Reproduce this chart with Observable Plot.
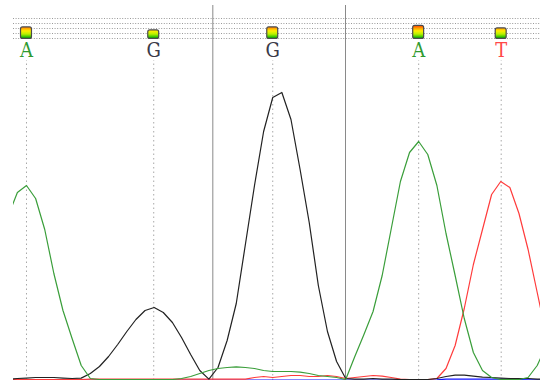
<!DOCTYPE html>
<html><head><meta charset="utf-8">
<script src="https://cdn.jsdelivr.net/npm/d3@7"></script>
<script src="https://cdn.jsdelivr.net/npm/@observablehq/plot@0.6"></script>
<style>html,body{margin:0;padding:0;background:#fff;} svg{display:block;}</style>
</head><body><div id="chart"></div>
<script>
// scan index of each trace sample
const scans = [0,1,2,3,4,5,6,7,8,9,10,11,12,13,14,15,16,17,18,19,20,21,22,23,24,25,26,27,28,29,
  30,31,32,33,34,35,36,37,38,39,40,41,42,43,44,45,46,47,48,49,50,51,52,53,54,55,56,57,58,59];
// signal intensity per channel
const traceA = [825,940,975,910,755,535,350,210,75,10,
  5,5,5,5,5,5,5,5,5,10,
  20,35,50,60,65,68,65,60,50,45,
  45,45,42,35,25,20,15,5,120,230,
  345,525,760,995,1140,1195,1130,975,735,525,
  310,140,50,15,5,5,5,15,75,175];
const traceG = [7,10,12,15,15,15,12,10,12,35,
  70,120,180,245,305,350,365,340,290,215,
  130,50,7,65,200,385,680,975,1245,1415,
  1440,1305,1055,790,475,245,95,10,7,7,
  10,7,7,5,5,5,5,10,20,27,
  27,22,17,15,12,10,10,10,7,7];
const traceT = [5,5,5,5,5,5,5,5,5,7,
  7,7,7,7,7,7,7,7,7,7,
  7,7,7,7,7,7,7,15,20,15,
  20,25,25,20,20,25,20,10,15,20,
  25,22,15,7,5,2,5,10,60,175,
  360,580,755,930,995,965,835,655,440,225];
const traceC = [2,2,2,2,2,2,2,2,2,2,
  2,2,2,2,2,2,2,2,2,2,
  2,2,2,2,2,2,2,2,2,2,
  2,2,2,2,2,2,2,2,2,2,
  2,2,2,2,2,2,2,3,7,7,
  7,7,7,7,7,7,5,3,3,3];
// base calls
const baseCalls = ["A","G","G","A","T"];
const basePositions = [2, 15.95, 29, 45, 54.05];
const baseQuality = [46, 34, 46, 52, 42];
const sectionBreaks = [22.43, 36.98];

const channelColors = {A:"#3a9e3a", G:"#222222", T:"#ff3b3b", C:"#1010ff"};
const letterColors = {A:"#2f9a2f", G:"#3a3a48", T:"#ff4848", C:"#1010ff"};

const rowsOf = arr => scans.map((s,i)=>({scan:s, v:arr[i]}));

// header layout (in intensity units of the y scale)
const headerRows = [1810,1785,1760,1735,1710];
const boxBottom = 1708;
const boxHalf = 0.6;
const guideTop = 1600;
const letterY = 1652;

const boxes = basePositions.map((p,i)=>({x1:p-boxHalf, x2:p+boxHalf, y1:boxBottom, y2:boxBottom+baseQuality[i]*1.25}));
const letters = basePositions.map((p,i)=>({x:p, base:baseCalls[i], color:letterColors[baseCalls[i]]}));

const plot = Plot.plot({
  width:540, height:381,
  marginLeft:13, marginRight:0, marginTop:5, marginBottom:1,
  x:{domain:[0.5746,58.36], axis:null},
  y:{domain:[0,1875], axis:null},
  color:{type:"identity"},
  marks:[
    Plot.ruleY(headerRows, {stroke:"#9a9a9a", strokeDasharray:"1,1.6", strokeWidth:1}),
    Plot.ruleX(basePositions, {y1:0, y2:guideTop, stroke:"#a8a8a8", strokeDasharray:"1.5,3", strokeWidth:1}),
    Plot.ruleX(sectionBreaks, {stroke:"#8a8a8a", strokeWidth:1}),
    Plot.line(rowsOf(traceC), {x:"scan", y:"v", stroke:channelColors.C, strokeWidth:1.2, clip:true}),
    Plot.line(rowsOf(traceT), {x:"scan", y:"v", stroke:channelColors.T, strokeWidth:1.2, clip:true}),
    Plot.line(rowsOf(traceG), {x:"scan", y:"v", stroke:channelColors.G, strokeWidth:1.2, clip:true}),
    Plot.line(rowsOf(traceA), {x:"scan", y:"v", stroke:channelColors.A, strokeWidth:1.2, clip:true}),
    Plot.rect(boxes, {x1:"x1", x2:"x2", y1:"y1", y2:"y2", fill:"url(#qgrad)", stroke:"#4a4a4a", strokeWidth:1.2, rx:2}),
    Plot.text(letters, {x:"x", y:letterY, text:"base", fill:"color", fontSize:20,
      fontFamily:"'DejaVu Serif Condensed','DejaVu Serif',serif", lineAnchor:"middle"})
  ]
});
document.getElementById("chart").appendChild(plot);
const svg = d3.select(plot);
const defs = svg.insert("defs", ":first-child");
const g = defs.append("linearGradient").attr("id","qgrad").attr("gradientUnits","userSpaceOnUse")
  .attr("x1",0).attr("x2",0).attr("y1",25).attr("y2",38);
[[0,"#ff2a00"],[0.2,"#ff8c00"],[0.45,"#ffee00"],[0.7,"#b8f000"],[1,"#00b400"]].forEach(([o,c])=>
  g.append("stop").attr("offset",o).attr("stop-color",c));
</script></body></html>
